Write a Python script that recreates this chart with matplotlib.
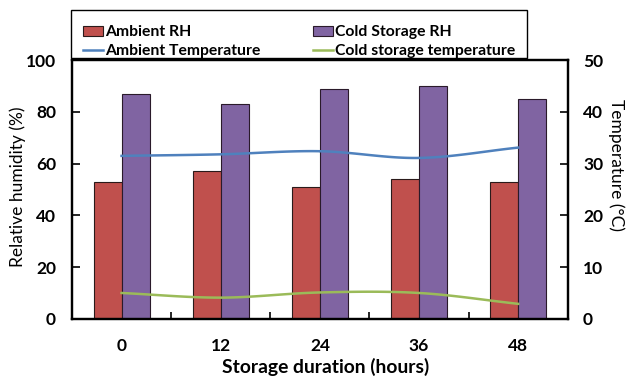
import numpy as np
import matplotlib.pyplot as plt
from matplotlib.ticker import FixedLocator
from matplotlib.patches import Rectangle

plt.rcParams['font.family'] = ['Lato', 'DejaVu Sans']

# data
hours = ['0', '12', '24', '36', '48']
ambient_rh = [53, 57, 51, 54, 53]
cold_rh = [87, 83, 89, 90, 85]
ambient_temp = [31.5, 31.8, 32.4, 31.1, 33.1]
cold_temp = [5.0, 4.1, 5.1, 5.0, 2.9]


def smooth(xs, ys, n=30):
    # catmull-rom style curve through the points, like Excel "smoothed line"
    xs = np.asarray(xs, float)
    ys = np.asarray(ys, float)
    px = np.concatenate([[2 * xs[0] - xs[1]], xs, [2 * xs[-1] - xs[-2]]])
    py = np.concatenate([[2 * ys[0] - ys[1]], ys, [2 * ys[-1] - ys[-2]]])
    ox, oy = [], []
    t = np.linspace(0, 1, n)
    for i in range(1, len(px) - 2):
        for p, o in ((px, ox), (py, oy)):
            p0, p1, p2, p3 = p[i - 1], p[i], p[i + 1], p[i + 2]
            o.extend(0.5 * ((2 * p1) + (-p0 + p2) * t
                            + (2 * p0 - 5 * p1 + 4 * p2 - p3) * t ** 2
                            + (-p0 + 3 * p1 - 3 * p2 + p3) * t ** 3))
    return np.array(ox), np.array(oy)


fig = plt.figure(figsize=(6.26, 3.76), dpi=100)
ax = fig.add_axes([0.115, 0.152, 0.792, 0.688])
ax2 = ax.twinx()

x = np.arange(len(hours))
w = 0.283
b1 = ax.bar(x - w / 2, ambient_rh, w, color='#C0504D', edgecolor='#2a1a1a', linewidth=0.8)
b2 = ax.bar(x + w / 2, cold_rh, w, color='#8064A2', edgecolor='#2a1a2a', linewidth=0.8)

sx, sy = smooth(x, ambient_temp)
l1, = ax2.plot(sx, sy, color='#4F81BD', lw=1.8)
sx, sy = smooth(x, cold_temp)
l2, = ax2.plot(sx, sy, color='#9BBB59', lw=1.8)

ax.set_xlim(-0.5, 4.5)
ax.set_ylim(0, 100)
ax2.set_ylim(0, 50)
ax.set_yticks(range(0, 101, 20))
ax2.set_yticks(range(0, 51, 10))
ax.set_xticks(x)
ax.set_xticklabels(hours, fontweight='bold')
ax.set_yticklabels(ax.get_yticks(), fontweight='bold')
ax2.set_yticklabels(ax2.get_yticks(), fontweight='bold')
ax.xaxis.set_minor_locator(FixedLocator(np.arange(-0.5, 4.6, 1)))
ax.tick_params(axis='x', which='major', length=0, pad=14, labelsize=12.5)
ax.tick_params(axis='x', which='minor', direction='in', length=5, width=1.2)
ax.tick_params(axis='y', direction='in', length=6, width=1.2, pad=11.5, labelsize=12.5)
ax2.tick_params(axis='y', direction='in', length=6, width=1.2, pad=11, labelsize=12.5)

for a in (ax, ax2):
    for s in a.spines.values():
        s.set_linewidth(1.6)
        s.set_color('black')

# axis titles placed in figure pixels like the original
fig.text(326 / 626, 1 - 367 / 376, 'Storage duration (hours)', fontsize=13.9, fontweight='bold',
         ha='center', va='center')
fig.text(18 / 626, 1 - 187 / 376, 'Relative humidity (%)', fontsize=12.5, rotation=90,
         ha='center', va='center')
fig.text(616 / 626, 1 - 165 / 376, 'Temperature (°C)', fontsize=12.5, rotation=-90,
         ha='center', va='center')

# legend: rows are RH bars then temperature lines
leg = fig.legend([b1, l1, b2, l2],
                 ['Ambient RH', 'Ambient Temperature', 'Cold Storage RH', 'Cold storage temperature'],
                 ncol=2, loc='lower left', bbox_to_anchor=(83 / 626, 1 - 58 / 376),
                 frameon=False, handlelength=1.28, handleheight=0.65,
                 handletextpad=0.1, borderpad=0, labelspacing=0.3, columnspacing=3.4,
                 borderaxespad=0, prop={'size': 11.3, 'weight': 'bold'})
fig.patches.append(Rectangle((71 / 626, 1 - 58 / 376), 456 / 626, 48 / 376,
                             transform=fig.transFigure, fill=False, ec='black', lw=1.0))

fig.savefig('out.png', dpi=100)
